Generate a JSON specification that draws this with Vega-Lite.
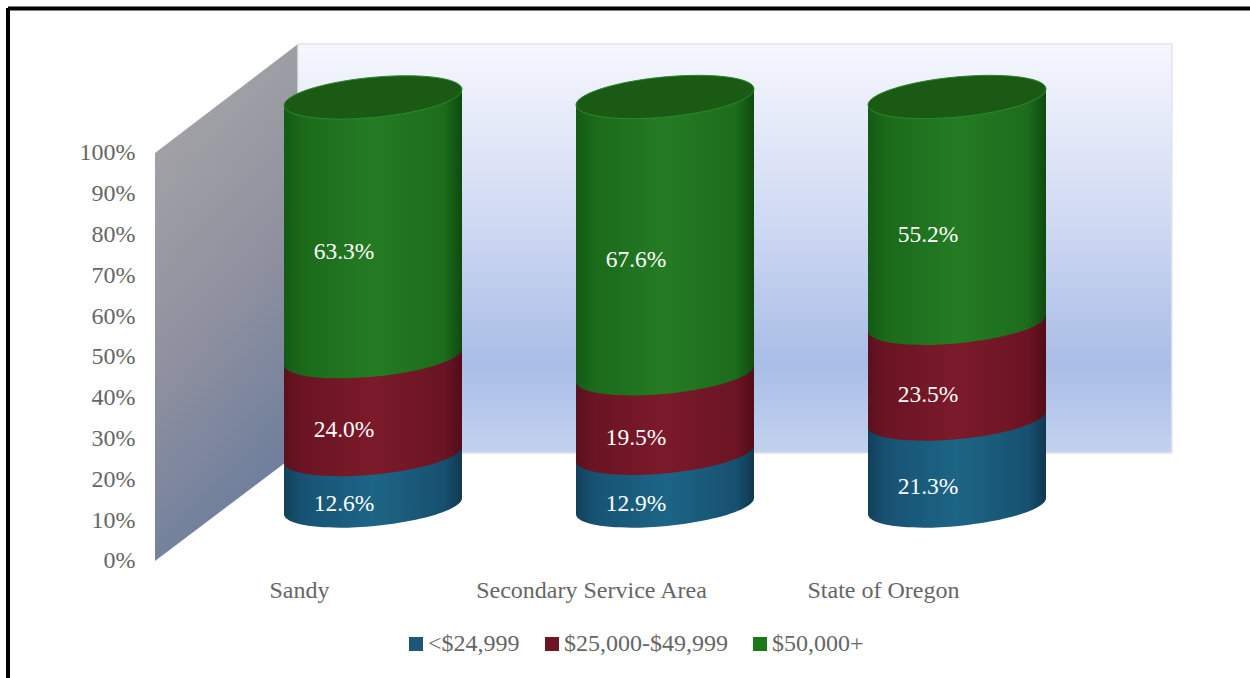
{
  "$schema": "https://vega.github.io/schema/vega-lite/v6.json",
  "width": 1242,
  "height": 670,
  "padding": {"left": 8, "top": 8, "right": 0, "bottom": 0},
  "autosize": {"type": "none"},
  "background": "#ffffff",
  "config": {"view": {"stroke": null}, "axis": {"grid": false, "domain": false, "ticks": false}},
  "datasets": {
    "income": [
      {"region": "Sandy", "idx": 0, "band": "<$24,999", "order": 1, "value": 12.6},
      {"region": "Sandy", "idx": 0, "band": "$25,000-$49,999", "order": 2, "value": 24.0},
      {"region": "Sandy", "idx": 0, "band": "$50,000+", "order": 3, "value": 63.3},
      {"region": "Secondary Service Area", "idx": 1, "band": "<$24,999", "order": 1, "value": 12.9},
      {"region": "Secondary Service Area", "idx": 1, "band": "$25,000-$49,999", "order": 2, "value": 19.5},
      {"region": "Secondary Service Area", "idx": 1, "band": "$50,000+", "order": 3, "value": 67.6},
      {"region": "State of Oregon", "idx": 2, "band": "<$24,999", "order": 1, "value": 21.3},
      {"region": "State of Oregon", "idx": 2, "band": "$25,000-$49,999", "order": 2, "value": 23.5},
      {"region": "State of Oregon", "idx": 2, "band": "$50,000+", "order": 3, "value": 55.2}
    ],
    "sideWall": [
      {"x": -0.7466, "top": 100, "bottom": 0},
      {"x": -0.2568, "top": 126.7, "bottom": 26.47}
    ],
    "backWall": [
      {"x0": -0.2568, "x1": 2.736, "top": 126.7, "bottom": 26.47}
    ]
  },
  "encoding": {
    "x": {
      "type": "quantitative",
      "scale": {"domain": [-1.25, 3.0034], "nice": false, "zero": false},
      "axis": {
        "title": null, "values": [0, 1, 2], "orient": "bottom", "offset": -100, "labelPadding": 0,
        "labelOffset": -74, "labelFont": "Liberation Serif", "labelFontSize": 24, "labelColor": "#666666", "labelLimit": 400,
        "labelExpr": "datum.value == 0 ? 'Sandy' : datum.value == 1 ? 'Secondary Service Area' : 'State of Oregon'"
      }
    },
    "y": {
      "type": "quantitative",
      "stack": null,
      "scale": {"domain": [-28.68, 135.54], "nice": false, "zero": false},
      "axis": {
        "title": null, "values": [0, 10, 20, 30, 40, 50, 60, 70, 80, 90, 100], "orient": "left", "offset": -127, "labelPadding": 0,
        "labelFont": "Liberation Serif", "labelFontSize": 24, "labelColor": "#666666",
        "labelExpr": "datum.value + '%'"
      }
    }
  },
  "layer": [
    {
      "data": {"name": "sideWall"},
      "mark": {
        "type": "area",
        "fill": {
          "gradient": "linear", "x1": 0.3, "y1": 0, "x2": 0.6, "y2": 1,
          "stops": [
            {"offset": 0, "color": "#a6a5a8"},
            {"offset": 0.5, "color": "#90919f"},
            {"offset": 1, "color": "#687b9c"}
          ]
        }
      },
      "encoding": {
        "x": {"field": "x"},
        "y": {"field": "top"},
        "y2": {"field": "bottom"}
      }
    },
    {
      "data": {"name": "backWall"},
      "mark": {
        "type": "rect",
        "stroke": "#e4e4e8",
        "strokeWidth": 1.5,
        "fill": {
          "gradient": "linear", "x1": 0, "y1": 0, "x2": 0, "y2": 1,
          "stops": [
            {"offset": 0, "color": "#f6f7fe"},
            {"offset": 0.4, "color": "#d3dcf4"},
            {"offset": 0.78, "color": "#a9bde6"},
            {"offset": 1, "color": "#c3d2ef"}
          ]
        }
      },
      "encoding": {
        "x": {"field": "x0"},
        "x2": {"field": "x1"},
        "y": {"field": "top"},
        "y2": {"field": "bottom"}
      }
    },
    {
      "data": {"values": [{"edge": 135.42}]},
      "mark": {"type": "rule", "color": "#000000", "strokeWidth": 4},
      "encoding": {"y": {"field": "edge"}}
    },
    {
      "data": {"values": [{"edge": -1.25}]},
      "mark": {"type": "rule", "color": "#000000", "strokeWidth": 4},
      "encoding": {"x": {"field": "edge"}}
    },
    {
      "data": {"name": "income"},
      "transform": [
        {"stack": "value", "groupby": ["region"], "sort": [{"field": "order"}], "as": ["y0", "y1"]},
        {"calculate": "datum.idx - 0.3048", "as": "left"},
        {"calculate": "datum.idx + 0.3048", "as": "right"},
        {"calculate": "(datum.y0 + datum.y1) / 2", "as": "mid"},
        {"calculate": "format(datum.value, '.1f') + '%'", "as": "label"}
      ],
      "layer": [
        {
          "transform": [{"filter": "datum.order == 1"}],
          "mark": {"type": "rect", "yOffset": -63.5, "y2Offset": -63.5, "fill": {"gradient": "linear", "x1": 0, "y1": 0, "x2": 1, "y2": 0, "stops": [{"offset": 0, "color": "#134059"}, {"offset": 0.1, "color": "#175273"}, {"offset": 0.5, "color": "#1d6585"}, {"offset": 0.9, "color": "#175070"}, {"offset": 1, "color": "#113850"}]}},
          "encoding": {"x": {"field": "left"}, "x2": {"field": "right"}, "y": {"field": "y1"}, "y2": {"field": "y0"}}
        },
        {
          "transform": [{"filter": "datum.order == 1"}],
          "mark": {"type": "point", "filled": true, "opacity": 1, "size": 31684, "yOffset": -55, "shape": "M-1,-0.11 L1,-0.11 L1,-0.0955 A1.0045,0.225,-5.45,1,1,-1,0.0955 Z", "fill": {"gradient": "linear", "x1": 0, "y1": 0, "x2": 1, "y2": 0, "stops": [{"offset": 0, "color": "#134059"}, {"offset": 0.1, "color": "#175273"}, {"offset": 0.5, "color": "#1d6585"}, {"offset": 0.9, "color": "#175070"}, {"offset": 1, "color": "#113850"}]}},
          "encoding": {"x": {"field": "idx"}, "y": {"field": "y0"}}
        },
        {
          "transform": [{"filter": "datum.order == 2"}],
          "mark": {"type": "rect", "yOffset": -63.5, "y2Offset": -63.5, "fill": {"gradient": "linear", "x1": 0, "y1": 0, "x2": 1, "y2": 0, "stops": [{"offset": 0, "color": "#5c0f1d"}, {"offset": 0.1, "color": "#6b1423"}, {"offset": 0.5, "color": "#7b1a2a"}, {"offset": 0.9, "color": "#6b1423"}, {"offset": 1, "color": "#520c19"}]}},
          "encoding": {"x": {"field": "left"}, "x2": {"field": "right"}, "y": {"field": "y1"}, "y2": {"field": "y0"}}
        },
        {
          "transform": [{"filter": "datum.order == 2"}],
          "mark": {"type": "point", "filled": true, "opacity": 1, "size": 31684, "yOffset": -55, "shape": "M-1,-0.11 L1,-0.11 L1,-0.0955 A1.0045,0.225,-5.45,1,1,-1,0.0955 Z", "fill": {"gradient": "linear", "x1": 0, "y1": 0, "x2": 1, "y2": 0, "stops": [{"offset": 0, "color": "#5c0f1d"}, {"offset": 0.1, "color": "#6b1423"}, {"offset": 0.5, "color": "#7b1a2a"}, {"offset": 0.9, "color": "#6b1423"}, {"offset": 1, "color": "#520c19"}]}},
          "encoding": {"x": {"field": "idx"}, "y": {"field": "y0"}}
        },
        {
          "transform": [{"filter": "datum.order == 3"}],
          "mark": {"type": "rect", "yOffset": -47.5, "y2Offset": -63.5, "fill": {"gradient": "linear", "x1": 0, "y1": 0, "x2": 1, "y2": 0, "stops": [{"offset": 0, "color": "#145a14"}, {"offset": 0.1, "color": "#1a6a1a"}, {"offset": 0.5, "color": "#257b24"}, {"offset": 0.9, "color": "#1c6c1c"}, {"offset": 1, "color": "#0f4a0f"}]}},
          "encoding": {"x": {"field": "left"}, "x2": {"field": "right"}, "y": {"field": "y1"}, "y2": {"field": "y0"}}
        },
        {
          "transform": [{"filter": "datum.order == 3"}],
          "mark": {"type": "point", "filled": true, "opacity": 1, "size": 31684, "yOffset": -55, "shape": "M-1,-0.11 L1,-0.11 L1,-0.0955 A1.0045,0.225,-5.45,1,1,-1,0.0955 Z", "fill": {"gradient": "linear", "x1": 0, "y1": 0, "x2": 1, "y2": 0, "stops": [{"offset": 0, "color": "#145a14"}, {"offset": 0.1, "color": "#1a6a1a"}, {"offset": 0.5, "color": "#257b24"}, {"offset": 0.9, "color": "#1c6c1c"}, {"offset": 1, "color": "#0f4a0f"}]}},
          "encoding": {"x": {"field": "idx"}, "y": {"field": "y0"}}
        },
        {
          "transform": [{"filter": "datum.order == 3"}],
          "mark": {"type": "point", "filled": true, "opacity": 1, "size": 31684, "yOffset": -56, "shape": "M-1,0.0955 L1,-0.0955 L1,0.11 L-1,0.11 Z", "fill": {"gradient": "linear", "x1": 0, "y1": 0, "x2": 1, "y2": 0, "stops": [{"offset": 0, "color": "#145a14"}, {"offset": 0.1, "color": "#1a6a1a"}, {"offset": 0.5, "color": "#257b24"}, {"offset": 0.9, "color": "#1c6c1c"}, {"offset": 1, "color": "#0f4a0f"}]}},
          "encoding": {"x": {"field": "idx"}, "y": {"field": "y1"}}
        },
        {
          "transform": [{"filter": "datum.order == 3"}],
          "mark": {"type": "point", "filled": true, "opacity": 1, "size": 31684, "yOffset": -56, "stroke": "#2a8a2a", "strokeWidth": 1, "fill": "#1b5a15", "shape": "M-1,0.0955 A1.0045,0.225,-5.45,1,1,1,-0.0955 A1.0045,0.225,-5.45,1,1,-1,0.0955 Z"},
          "encoding": {"x": {"field": "idx"}, "y": {"field": "y1"}}
        },
        {
          "mark": {"type": "text", "color": "#ffffff", "font": "Liberation Serif", "fontSize": 23.5, "dx": -29, "dy": -31, "baseline": "middle"},
          "encoding": {"x": {"field": "idx"}, "y": {"field": "mid"}, "text": {"field": "label", "type": "nominal"}}
        },
        {
          "mark": {"type": "point", "filled": true, "size": 0},
          "encoding": {
            "x": {"field": "idx"},
            "y": {"field": "y1"},
            "color": {
              "field": "band", "type": "nominal",
              "scale": {"domain": ["<$24,999", "$25,000-$49,999", "$50,000+"], "range": ["#1a5876", "#6e1424", "#1a7a1a"]},
              "legend": {
                "orient": "none", "legendX": 396, "legendY": 624, "direction": "horizontal", "columns": 3, "title": null,
                "symbolType": "square", "symbolSize": 196, "symbolOpacity": 1, "symbolStrokeWidth": 0, "labelLimit": 400,
                "labelFont": "Liberation Serif", "labelFontSize": 24, "labelColor": "#666666", "labelOffset": 0, "columnPadding": 20
              }
            }
          }
        }
      ]
    }
  ]
}
